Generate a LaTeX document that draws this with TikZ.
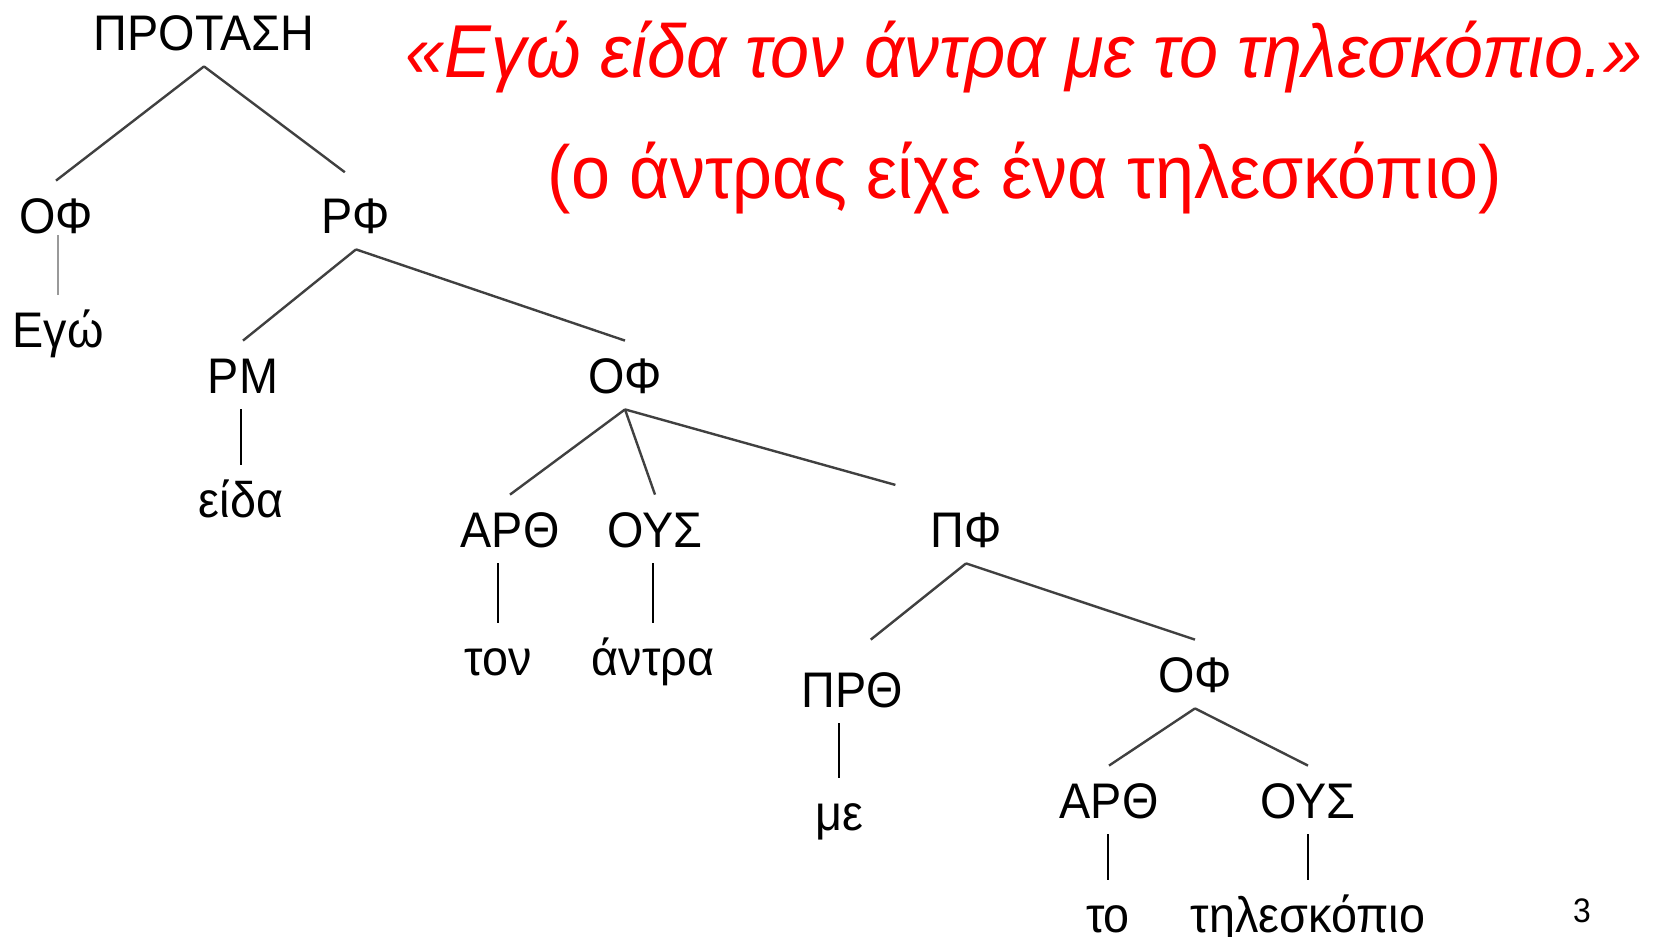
\documentclass[tikz,border=0pt]{standalone}
\usepackage{fontspec}
\setmainfont{Liberation Sans}
\newcommand{\squeeze}[1]{\scalebox{0.935}[1]{#1}}

\begin{document}
\begin{tikzpicture}[x=0.5pt, y=-0.5pt,
    cat/.style={font=\fontsize{25}{30}\selectfont, inner xsep=0pt, inner ysep=8pt,
                text height=18pt, text depth=0pt, anchor=base},
    word/.style={cat},
    title/.style={font=\fontsize{37.5}{45}\selectfont\itshape, text=red, inner sep=0pt, anchor=base},
    subtitle/.style={font=\fontsize{37.5}{45}\selectfont, text=red, inner sep=0pt, anchor=base},
    branch/.style={draw=black!75, line width=1.2pt},
    stem/.style={draw=black, line width=1.4pt}]

    \useasboundingbox (0,0) rectangle (1655,937);

    % sentence in red
    \node[title] (quote) at (1024,77) {\squeeze{«Εγώ είδα τον άντρα με το τηλεσκόπιο.»}};
    \node[subtitle] (gloss) at (1025,198) {\squeeze{(ο άντρας είχε ένα τηλεσκόπιο)}};

    % categories
    \node[cat] (s) at (204,50) {\squeeze{ΠΡΟΤΑΣΗ}};
    \node[cat] (of1) at (56,233) {\squeeze{ΟΦ}};
    \node[cat] (rf) at (356,233) {\squeeze{ΡΦ}};
    \node[cat] (rm) at (243,393) {\squeeze{ΡΜ}};
    \node[cat] (of2) at (625,393) {\squeeze{ΟΦ}};
    \node[cat] (art1) at (510,547) {\squeeze{ΑΡΘ}};
    \node[cat] (ous1) at (655,547) {\squeeze{ΟΥΣ}};
    \node[cat] (pf) at (966,547) {\squeeze{ΠΦ}};
    \node[cat] (prth) at (852,707) {\squeeze{ΠΡΘ}};
    \node[cat] (of3) at (1195,692) {\squeeze{ΟΦ}};
    \node[cat] (art2) at (1109,818) {\squeeze{ΑΡΘ}};
    \node[cat] (ous2) at (1308,818) {\squeeze{ΟΥΣ}};

    % words
    \node[word] (ego) at (58,347) {\squeeze{Εγώ}};
    \node[word] (eida) at (241,517) {\squeeze{είδα}};
    \node[word] (ton) at (498,675) {\squeeze{τον}};
    \node[word] (antra) at (653,675) {\squeeze{άντρα}};
    \node[word] (me) at (839,830) {\squeeze{με}};
    \node[word] (to) at (1108,932) {\squeeze{το}};
    \node[word] (tele) at (1308,932) {\squeeze{τηλεσκόπιο}};

    \node[font=\fontsize{17}{20}\selectfont, inner sep=0pt, anchor=base] (num) at (1582,922) {\squeeze{3}};

    % branches
    \draw[branch] (s.south) -- (of1.north);
    \draw[branch, shorten >=7pt] (s.south) -- (rf.north);
    \draw[branch] (rf.south) -- (rm.north);
    \draw[branch] (rf.south) -- (of2.north);
    \draw[branch] (of2.south) -- (art1.north);
    \draw[branch] (of2.south) -- (ous1.north);
    \draw[branch, shorten >=18pt] (of2.south) -- (pf.north west);
    \draw[branch, shorten >=12pt] (pf.south) -- (prth.north);
    \draw[branch] (pf.south) -- (of3.north);
    \draw[branch] (of3.south) -- (art2.north);
    \draw[branch] (of3.south) -- (ous2.north);

    % lexical stems
    \draw[stem, draw=black!40, shorten >=-7pt] (ego.north) -- (ego.north |- of1.south);
    \draw[stem] (eida.north) -- (eida.north |- rm.south);
    \draw[stem] (ton.north) -- (ton.north |- art1.south);
    \draw[stem] (antra.north) -- (antra.north |- ous1.south);
    \draw[stem] (me.north) -- (me.north |- prth.south);
    \draw[stem] (to.north) -- (to.north |- art2.south);
    \draw[stem] (tele.north) -- (tele.north |- ous2.south);
\end{tikzpicture}
\end{document}
